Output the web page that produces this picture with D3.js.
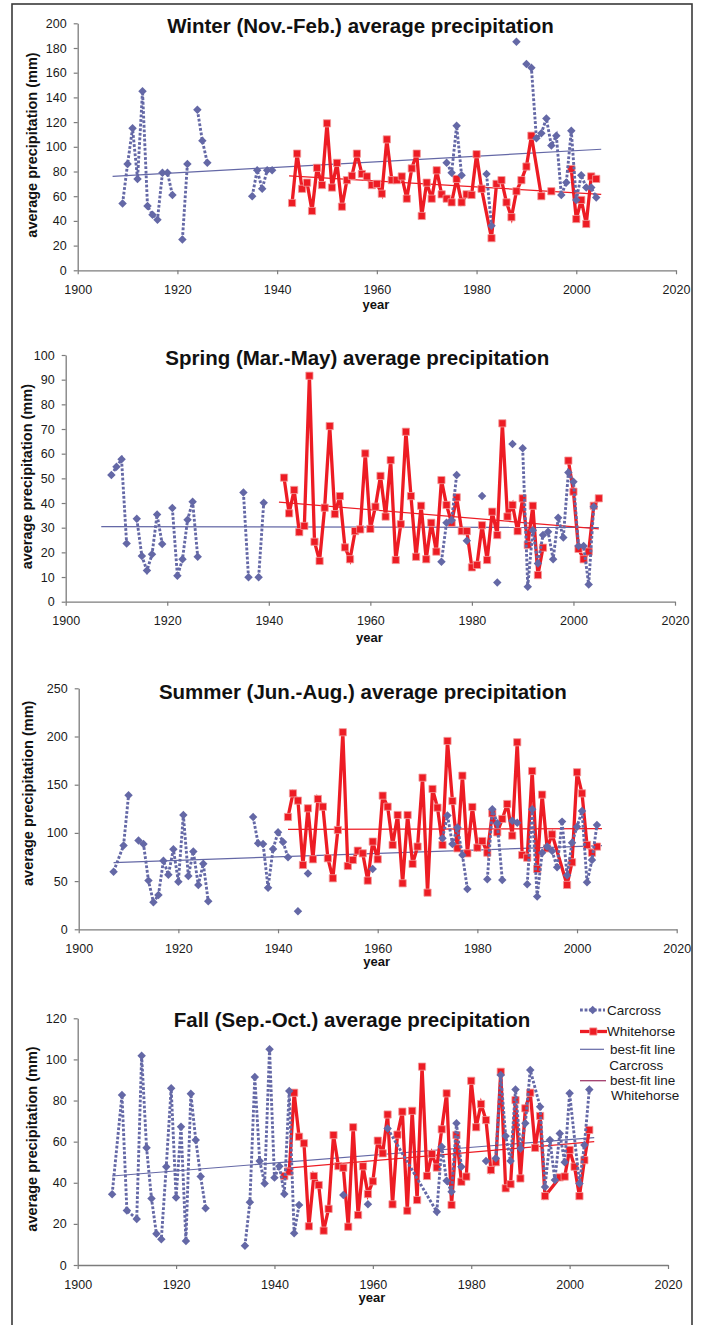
<!DOCTYPE html>
<html>
<head>
<meta charset="utf-8">
<script src="https://cdn.jsdelivr.net/npm/d3@7"></script>
<style>
  body { margin: 0; background: #fff; }
  svg { display: block; }
  text { font-family: "Liberation Sans", Arial, sans-serif; }
</style>
</head>
<body>
<svg id="chart" width="702" height="1325"></svg>
<script>
// ---------- data: [year, mm]; null marks a break in the series line ----------
const xTicks = [1900, 1920, 1940, 1960, 1980, 2000, 2020];

const winterTicks = [0, 20, 40, 60, 80, 100, 120, 140, 160, 180, 200];
const springTicks = [0, 10, 20, 30, 40, 50, 60, 70, 80, 90, 100];
const summerTicks = [0, 50, 100, 150, 200, 250];
const fallTicks   = [0, 20, 40, 60, 80, 100, 120];

const winterCarcross = [
  [1909,54],[1910,86],[1911,115],[1912,74],[1913,145],[1914,52],[1915,45],[1916,41],[1917,79],[1918,79],[1919,61], null,
  [1921,25],[1922,86], null,
  [1924,130],[1925,105],[1926,87], null,
  [1935,60],[1936,81],[1937,66],[1938,81],[1939,81], null,
  [1974,87],[1975,79],[1976,117],[1977,77], null,
  [1982,78],[1983,36], null,
  [1988,185], null,
  [1990,167],[1991,164],[1992,107],[1993,111],[1994,123],[1995,101],[1996,109],[1997,61],[1998,71],[1999,113],[2000,57],[2001,77],[2002,67],[2003,67],[2004,59]
];
const winterWhitehorse = [
  [1943,54.5],[1944,94.5],[1945,66],[1946,71],[1947,48],[1948,83],[1949,69],[1950,119],[1951,67],[1952,87],[1953,51.5],[1954,73],[1955,76.5],[1956,94.5],[1957,78],[1958,76],[1959,69],[1960,70],[1961,62],[1962,106],[1963,73],[1964,73],[1965,76],[1966,58],[1967,82.5],[1968,94.5],[1969,44],[1970,71],[1971,58],[1972,81],[1973,61.5],[1974,58],[1975,55],[1976,74],[1977,55],[1978,61.5],[1979,61],[1980,94],[1981,66],[1983,26],[1984,70],[1985,73],[1986,55],[1987,43],[1988,64],[1989,73],[1990,84],[1991,109],[1993,60], null,
  [1995,64], null,
  [1999,82],[2000,41.5],[2001,57],[2002,37.5],[2003,76],[2004,74]
];
const winterFitCarcross   = [[1907,76],[2005,98]];
const winterFitWhitehorse = [[1942.4,76.4],[2005,61.5]];

const springCarcross = [
  [1909,51.4],[1910,54.7],[1911,57.7],[1912,23.6], null,
  [1914,33.6],[1915,18.5],[1916,12.6],[1917,19.2],[1918,35.3],[1919,23.4], null,
  [1921,38],[1922,10.5],[1923,17.2],[1924,33.2],[1925,40.5],[1926,18.2], null,
  [1935,44.3],[1936,9.9], null,
  [1938,9.9],[1939,40.1], null,
  [1974,16.2],[1975,32],[1976,33],[1977,51.4], null,
  [1979,24.7], null,
  [1982,42.8], null,
  [1985,7.8], null,
  [1988,63.9], null,
  [1990,62.2],[1991,6.1],[1992,29],[1993,15.5],[1994,27],[1995,28.4],[1996,17.2],[1997,34],[1998,26],[1999,52.4],[2000,48.6],[2001,22.6],[2002,22.6],[2003,7],[2004,38.5]
];
const springWhitehorse = [
  [1943,50.3],[1944,35.8],[1945,45.3],[1946,28.2],[1947,30.7],[1948,91.6],[1949,24.3],[1950,16.5],[1951,38.1],[1952,71.2],[1953,35.5],[1954,42.8],[1955,22],[1956,17.2],[1957,28.6],[1958,29.3],[1959,60.1],[1960,29.5],[1961,38.5],[1962,51],[1963,34.5],[1964,57.4],[1965,16.9],[1966,31.4],[1967,68.9],[1968,42.8],[1969,18.2],[1970,38.9],[1971,17.2],[1972,32],[1973,20.3],[1974,49.3],[1975,39.2],[1976,32],[1977,42.3],[1978,28.6],[1979,28.6],[1980,13.9],[1981,14.9],[1982,31],[1983,16.9],[1984,36.5],[1985,27],[1986,72.3],[1987,34.5],[1988,39.2],[1989,28.6],[1990,41.9],[1991,23],[1992,38.9],[1993,10.8],[1994,21.9], null,
  [1999,57.2],[2000,44.6],[2001,21.4],[2002,17.2],[2003,20.3],[2004,38.9],[2005,41.9]
];
const springFitCarcross   = [[1907,30.4],[2005,30.1]];
const springFitWhitehorse = [[1942,40.4],[2005,29.5]];

const summerCarcross = [
  [1907,59.8],[1909,87],[1910,139], null,
  [1912,92],[1913,88.5],[1914,50.5],[1915,28],[1916,35.6],[1917,71.2],[1918,56.7],[1919,83],[1920,49.4],[1921,118.6],[1922,55.3],[1923,80.6],[1924,46],[1925,68],[1926,29], null,
  [1935,116.5],[1936,89.2],[1937,88.5],[1938,43.2],[1939,83.3],[1940,100.6],[1941,90.6],[1942,74.7], null,
  [1944,18.7], null,
  [1946,58], null,
  [1959,62.6], null,
  [1973,94.4],[1974,118],[1975,88.5],[1976,105.5],[1977,77],[1978,41.8], null,
  [1982,51.9],[1983,124.5],[1984,110],[1985,51.2], null,
  [1987,112.7],[1988,110.6], null,
  [1990,46.7],[1991,124.5],[1992,33.9],[1993,79.5],[1994,85.8],[1995,81.3],[1996,64.3],[1997,111.7],[1998,56],[1999,89.9],[2000,106.5],[2001,122.8],[2002,48.8],[2003,71.9],[2004,108.2]
];
const summerWhitehorse = [
  [1942,116.5],[1943,141],[1944,133.5],[1945,66.7],[1946,125.5],[1947,72.6],[1948,135.2],[1949,127.2],[1950,73.7],[1951,52.9],[1952,103],[1953,204.4],[1954,65.7],[1955,71.9],[1956,81.6],[1957,78.8],[1958,50.5],[1959,91],[1960,72.6],[1961,138.7],[1962,127.2],[1963,87.5],[1964,118.6],[1965,47.7],[1966,118.6],[1967,67.8],[1968,85.8],[1969,157.3],[1970,38],[1971,145.6],[1972,126.2],[1973,87.5],[1974,195.4],[1975,133.1],[1976,84],[1977,159.4],[1978,78.8],[1979,126.9],[1980,84.7],[1981,91.6],[1982,79.5],[1983,120.3],[1984,100.6],[1985,114.5],[1986,130],[1987,97.2],[1988,194],[1989,77],[1990,74.3],[1991,164.2],[1992,62.6],[1993,139.7],[1994,84],[1995,98.5],[1998,46],[1999,69.5],[2000,162.9],[2001,141],[2002,87.5],[2003,79.5],[2004,85.8]
];
const summerFitCarcross   = [[1907,69.2],[2005,86.8]];
const summerFitWhitehorse = [[1942,103.7],[2005,104.4]];

const fallCarcross = [
  [1907,34.4],[1909,82.7],[1910,26.5],[1912,22.4],[1913,101.8],[1914,57],[1915,32.4],[1916,15.2],[1917,12.5],[1918,47.8],[1919,86],[1920,32.8],[1921,67.3],[1922,11.7],[1923,83.3],[1924,60.8],[1925,43],[1926,27.6], null,
  [1934,9.4],[1935,30.5],[1936,91.5],[1937,50.6],[1938,39.7],[1939,105],[1940,42.5],[1941,48],[1942,34.5],[1943,84.6],[1944,15.4],[1945,29.2], null,
  [1954,34], null,
  [1959,29.5], null,
  [1963,66.4],[1973,25.9],[1974,57.5],[1975,41],[1976,35.6],[1977,68.9],[1978,47.8], null,
  [1983,50.6], null,
  [1985,51.9],[1986,92.4],[1987,62.7],[1988,50.6],[1989,85.4],[1990,56.7],[1991,68.9],[1992,94.8],[1994,77],[1995,38],[1996,60.8],[1997,41.3],[1998,64],[1999,50],[2000,83.5],[2002,39.7],[2003,58.4],[2004,85.4]
];
const fallWhitehorse = [
  [1942,43.3],[1943,45.4],[1944,83.8],[1945,62.4],[1946,59.2],[1947,18.8],[1948,43.3],[1949,38.9],[1950,16.7],[1951,27.3],[1952,63.2],[1953,48.1],[1954,47.3],[1955,18.6],[1956,67],[1957,24.3],[1958,48],[1959,34.5],[1960,40.7],[1961,60.5],[1962,54.3],[1963,73.2],[1964,29.5],[1965,63.4],[1966,74.6],[1967,26.4],[1968,75],[1969,31.6],[1970,96.5],[1971,43.3],[1972,54],[1973,47.4],[1974,66],[1975,83.5],[1976,29.2],[1977,63.2],[1978,40.5],[1979,43],[1980,89.6],[1981,67],[1982,78.3],[1983,70.5],[1984,46.2],[1985,50],[1986,94],[1987,37.3],[1988,39.3],[1989,80.2],[1990,42.1],[1991,76.2],[1992,83.8],[1993,57],[1994,72.5],[1995,33.5],[1998,42.6],[1999,43],[2000,56],[2001,47.8],[2002,33.5],[2003,51],[2004,65.7]
];
const fallFitCarcross   = [[1907,43.3],[2005,62]];
const fallFitWhitehorse = [[1942,47],[2005,60]];

const seriesNames = ["Carcross", "Whitehorse"];

// ---------- colours and layout ----------
const BLUE = "#6468a6";
const RED = "#ed1c24";

const panels = [
  { title: "Winter (Nov.-Feb.) average precipitation", ticks: winterTicks,
    carcross: winterCarcross, whitehorse: winterWhitehorse, fitC: winterFitCarcross, fitW: winterFitWhitehorse,
    x0: 77.7, x1: 676, yTop: 23.3, yBottom: 270.3, titleX: 360.5, titleY: 33.3,
    ylabX: 32.3, ylabY: 145, yearY: 308.5 },
  { title: "Spring (Mar.-May) average precipitation", ticks: springTicks,
    carcross: springCarcross, whitehorse: springWhitehorse, fitC: springFitCarcross, fitW: springFitWhitehorse,
    x0: 65.7, x1: 675, yTop: 355, yBottom: 601.7, titleX: 357.3, titleY: 365,
    ylabX: 26.7, ylabY: 476.7, yearY: 641.7 },
  { title: "Summer (Jun.-Aug.) average precipitation", ticks: summerTicks,
    carcross: summerCarcross, whitehorse: summerWhitehorse, fitC: summerFitCarcross, fitW: summerFitWhitehorse,
    x0: 78.7, x1: 676.7, yTop: 688.3, yBottom: 929.3, titleX: 362.8, titleY: 699,
    ylabX: 28, ylabY: 793.3, yearY: 966 },
  { title: "Fall (Sep.-Oct.) average precipitation", ticks: fallTicks,
    carcross: fallCarcross, whitehorse: fallWhitehorse, fitC: fallFitCarcross, fitW: fallFitWhitehorse,
    x0: 77.7, x1: 668, yTop: 1018.3, yBottom: 1265, titleX: 352, titleY: 1027.3,
    ylabX: 32.3, ylabY: 1139, yearY: 1302.3, legend: true }
];

const svg = d3.select("#chart");

// outer frame
svg.append("rect")
  .attr("x", 12).attr("y", 4).attr("width", 680).attr("height", 1360)
  .attr("fill", "none").attr("stroke", "#3a3a3a").attr("stroke-width", 1.6);

const diamond = d3.symbol().type(d3.symbolSquare).size(36);
const square = d3.symbol().type(d3.symbolSquare).size(52);

function drawCarcrossMarkers(sel, pts, x, y) {
  sel.selectAll(null).data(pts).join("path")
    .attr("d", diamond)
    .attr("transform", d => `translate(${x(d[0])},${y(d[1])}) rotate(45)`)
    .attr("fill", BLUE);
}
function drawWhitehorseMarkers(sel, pts, x, y) {
  sel.selectAll(null).data(pts).join("path")
    .attr("d", square)
    .attr("transform", d => `translate(${x(d[0])},${y(d[1])})`)
    .attr("fill", RED).attr("stroke", "#f39a9a").attr("stroke-width", 0.8);
}

panels.forEach(p => {
  const x = d3.scaleLinear().domain([1900, 2020]).range([p.x0, p.x1]);
  const y = d3.scaleLinear().domain([0, d3.max(p.ticks)]).range([p.yBottom, p.yTop]);
  const g = svg.append("g");

  // axes
  const yAxis = g.append("g")
    .attr("transform", `translate(${p.x0},0)`)
    .call(d3.axisLeft(y).tickValues(p.ticks).tickSize(4).tickSizeOuter(0).tickPadding(7));
  const xAxis = g.append("g")
    .attr("transform", `translate(0,${p.yBottom})`)
    .call(d3.axisBottom(x).tickValues(xTicks).tickFormat(d3.format("d")).tickSize(4).tickSizeOuter(0));
  [yAxis, xAxis].forEach(a => {
    a.attr("font-family", null).attr("font-size", null);
    a.select(".domain").attr("stroke", "#7c7c7c").attr("stroke-width", 1.3);
    a.selectAll(".tick line").attr("stroke", "#7c7c7c").attr("stroke-width", 1.2);
    a.selectAll(".tick text").attr("fill", "#1a1a1a").style("font-size", "12.5px");
  });
  xAxis.selectAll(".tick text").attr("y", 23.8).attr("dy", null);

  // titles
  g.append("text")
    .attr("x", p.titleX).attr("y", p.titleY)
    .attr("text-anchor", "middle")
    .style("font-size", "20.5px").style("font-weight", "bold").attr("fill", "#111")
    .text(p.title);
  g.append("text")
    .attr("transform", `translate(${p.ylabX},${p.ylabY}) rotate(-90)`)
    .attr("text-anchor", "middle").attr("dy", "0.35em")
    .style("font-size", "14.5px").style("font-weight", "bold").attr("fill", "#111")
    .text("average precipitation (mm)");
  g.append("text")
    .attr("x", (x(1900) + x(2020)) / 2 - 1).attr("y", p.yearY)
    .attr("text-anchor", "middle")
    .style("font-size", "13px").style("font-weight", "bold").attr("fill", "#111")
    .text("year");

  const line = d3.line().defined(d => d != null).x(d => x(d[0])).y(d => y(d[1]));

  // best-fit lines
  g.append("path").attr("d", line(p.fitC)).attr("fill", "none").attr("stroke", BLUE).attr("stroke-width", 1.2);
  g.append("path").attr("d", line(p.fitW)).attr("fill", "none").attr("stroke", RED).attr("stroke-width", 1.2);

  // Whitehorse series
  g.append("path").attr("d", line(p.whitehorse))
    .attr("fill", "none").attr("stroke", RED).attr("stroke-width", 3.3).attr("stroke-linejoin", "miter");
  drawWhitehorseMarkers(g.append("g"), p.whitehorse.filter(d => d), x, y);

  // Carcross series
  g.append("path").attr("d", line(p.carcross))
    .attr("fill", "none").attr("stroke", BLUE).attr("stroke-width", 2.9).attr("stroke-dasharray", "2.8,1.8");
  drawCarcrossMarkers(g.append("g"), p.carcross.filter(d => d), x, y);

  if (p.legend) {
    const lg = svg.append("g");
    const lx0 = 580, lx1 = 605, tx = 607;
    // Carcross
    lg.append("line").attr("x1", lx0).attr("x2", lx1).attr("y1", 1010).attr("y2", 1010)
      .attr("stroke", BLUE).attr("stroke-width", 2.9).attr("stroke-dasharray", "2.8,1.8");
    lg.append("path").attr("d", diamond).attr("transform", "translate(592.7,1010) rotate(45)").attr("fill", BLUE);
    lg.append("text").attr("x", tx).attr("y", 1010).attr("dy", "0.35em").style("font-size", "13.5px").attr("fill", "#1a1a1a").text(seriesNames[0]);
    // Whitehorse
    lg.append("line").attr("x1", lx0).attr("x2", lx1 + 2).attr("y1", 1031.5).attr("y2", 1031.5)
      .attr("stroke", RED).attr("stroke-width", 3.3);
    lg.append("path").attr("d", square).attr("transform", "translate(593.3,1031.5)")
      .attr("fill", RED).attr("stroke", "#f39a9a").attr("stroke-width", 0.8);
    lg.append("text").attr("x", tx).attr("y", 1031.5).attr("dy", "0.35em").style("font-size", "13.5px").attr("fill", "#1a1a1a").text(seriesNames[1]);
    // best-fit Carcross
    lg.append("line").attr("x1", lx0).attr("x2", 604).attr("y1", 1049.3).attr("y2", 1049.3)
      .attr("stroke", BLUE).attr("stroke-width", 1.2);
    lg.append("text").attr("x", 610).attr("y", 1049.3).attr("dy", "0.35em").style("font-size", "13.5px").attr("fill", "#1a1a1a").text("best-fit line");
    lg.append("text").attr("x", 609.3).attr("y", 1065.7).attr("dy", "0.35em").style("font-size", "13.5px").attr("fill", "#1a1a1a").text(seriesNames[0]);
    // best-fit Whitehorse
    lg.append("line").attr("x1", lx0).attr("x2", 606).attr("y1", 1080.7).attr("y2", 1080.7)
      .attr("stroke", "#a23c6c").attr("stroke-width", 1.3);
    lg.append("text").attr("x", 610).attr("y", 1080.7).attr("dy", "0.35em").style("font-size", "13.5px").attr("fill", "#1a1a1a").text("best-fit line");
    lg.append("text").attr("x", 611).attr("y", 1095.7).attr("dy", "0.35em").style("font-size", "13.5px").attr("fill", "#1a1a1a").text(seriesNames[1]);
  }
});
</script>
</body>
</html>
